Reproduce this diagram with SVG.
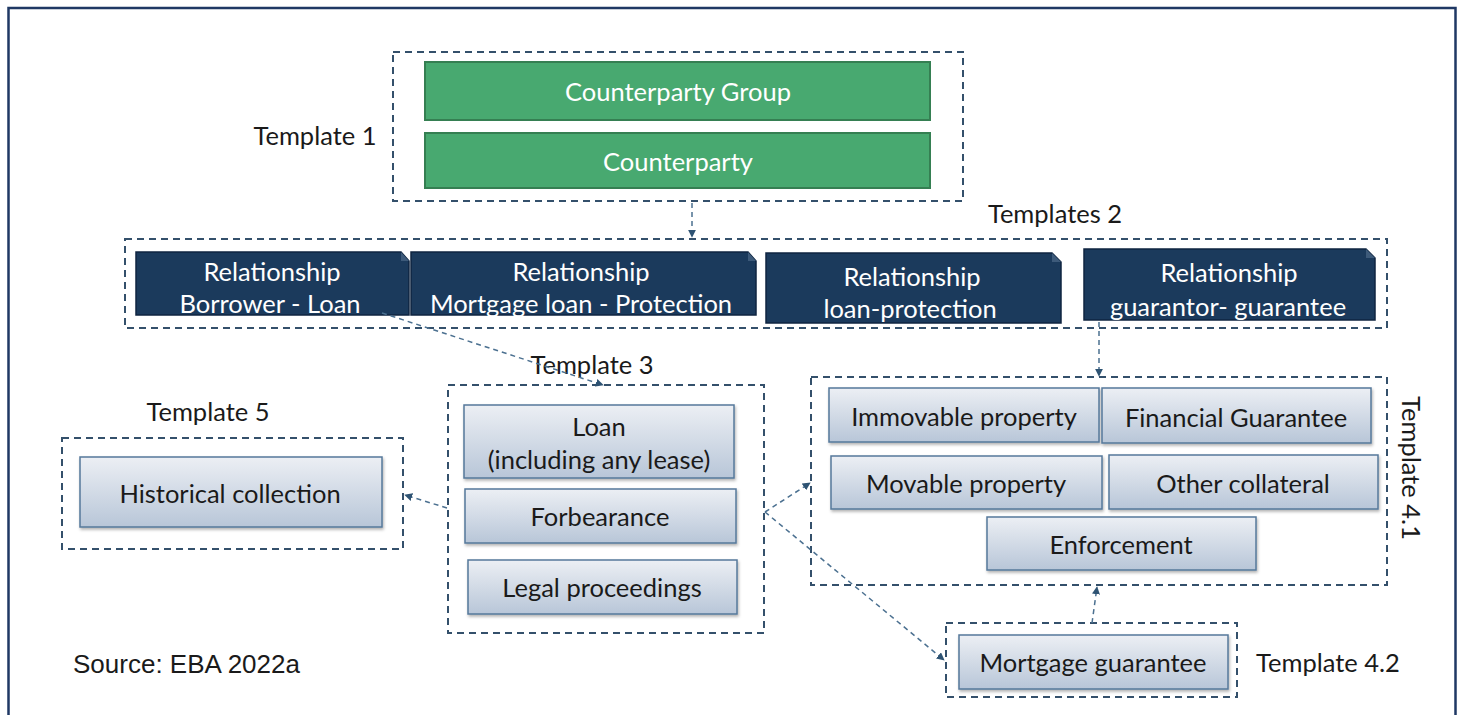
<svg xmlns="http://www.w3.org/2000/svg" width="1460" height="715" viewBox="0 0 1460 715">
<defs>
<linearGradient id="lg" x1="0" y1="0" x2="0" y2="1">
<stop offset="0" stop-color="#eceff4"/>
<stop offset="1" stop-color="#b8c6d8"/>
</linearGradient>
<filter id="sh" x="-10%" y="-20%" width="120%" height="150%">
<feDropShadow dx="1" dy="2" stdDeviation="1.5" flood-color="#000" flood-opacity="0.3"/>
</filter>
<marker id="ah" viewBox="0 0 10 10" refX="9" refY="5" markerWidth="8" markerHeight="8" orient="auto" markerUnits="userSpaceOnUse">
<path d="M0,0 L10,5 L0,10 z" fill="#2e5373"/>
</marker>
<style>
.frame{fill:none;stroke:#1f3864;stroke-width:2.5}
.dash{fill:none;stroke:#34506b;stroke-width:2;stroke-dasharray:7,5}
.green{fill:#48a970;stroke:#357f52;stroke-width:2}
.dark{fill:#1b3a5c;stroke:#0f2540;stroke-width:1.5}
.fold{fill:#3d5a7a}
.light{fill:url(#lg);stroke:#56789a;stroke-width:1.5;filter:url(#sh)}
.conn{fill:none;stroke:#4b7090;stroke-width:1.5;stroke-dasharray:5,4}
text{font-family:Lato,"Liberation Sans",sans-serif;font-size:25.5px;text-anchor:middle;dominant-baseline:central}
.w{fill:#ffffff}
.k{fill:#1a1a1a}
.src{font-family:"Liberation Sans",Arial,sans-serif;font-size:26px;text-anchor:start}
</style>
</defs>
<rect x="0" y="0" width="1460" height="715" fill="#ffffff"/>
<path class="frame" d="M8.5,730 V8 H1455.5 V730"/>

<g id="template1">
<rect class="dash" x="393" y="52" width="570" height="149"/>
<text class="k" x="315" y="135">Template 1</text>
</g>
<g id="counterparty-group">
<rect class="green" x="425" y="62" width="505" height="58"/>
<text class="w" x="678" y="91">Counterparty Group</text>
</g>
<g id="counterparty">
<rect class="green" x="425" y="133" width="505" height="55"/>
<text class="w" x="678" y="161">Counterparty</text>
</g>

<g id="templates2">
<rect class="dash" x="125" y="239" width="1262" height="89"/>
<text class="k" x="1055" y="213">Templates 2</text>
</g>
<g id="rel-borrower-loan">
<path class="dark" d="M136,252 H401 L409,261 V315 H136 Z"/>
<path class="fold" d="M401,252 L409,261 H401 Z"/>
<text class="w" x="272" y="271">Relationship</text>
<text class="w" x="270" y="303">Borrower - Loan</text>
</g>
<g id="rel-mortgage-protection">
<path class="dark" d="M411,252 H748 L756,261 V315 H411 Z"/>
<path class="fold" d="M748,252 L756,261 H748 Z"/>
<text class="w" x="581" y="271">Relationship</text>
<text class="w" x="581" y="303">Mortgage loan - Protection</text>
</g>
<g id="rel-loan-protection">
<path class="dark" d="M766,253 H1052 L1061,262 V323 H766 Z"/>
<path class="fold" d="M1052,253 L1061,262 H1052 Z"/>
<text class="w" x="912" y="276">Relationship</text>
<text class="w" x="910" y="308">loan-protection</text>
</g>
<g id="rel-guarantor-guarantee">
<path class="dark" d="M1084,249 H1366 L1375,258 V320 H1084 Z"/>
<path class="fold" d="M1366,249 L1375,258 H1366 Z"/>
<text class="w" x="1229" y="272">Relationship</text>
<text class="w" x="1228" y="306">guarantor- guarantee</text>
</g>

<g id="template3">
<rect class="dash" x="448" y="385" width="316" height="248"/>
<text class="k" x="592" y="364">Template 3</text>
</g>
<g id="loan">
<rect class="light" x="464" y="405" width="270" height="73"/>
<text class="k" x="599" y="426">Loan</text>
<text class="k" x="599" y="459">(including any lease)</text>
</g>
<g id="forbearance">
<rect class="light" x="465" y="489" width="271" height="54"/>
<text class="k" x="600" y="516">Forbearance</text>
</g>
<g id="legal-proceedings">
<rect class="light" x="468" y="560" width="269" height="54"/>
<text class="k" x="602" y="587">Legal proceedings</text>
</g>

<g id="template5">
<rect class="dash" x="62" y="438" width="341" height="111"/>
<text class="k" x="208" y="411">Template 5</text>
</g>
<g id="historical-collection">
<rect class="light" x="80" y="457" width="302" height="70"/>
<text class="k" x="230" y="493">Historical collection</text>
</g>

<g id="template41">
<rect class="dash" x="811" y="377" width="576" height="208"/>
<text class="k" x="1412" y="468" transform="rotate(90 1412 468)">Template 4.1</text>
</g>
<g id="immovable-property">
<rect class="light" x="829" y="388" width="270" height="54"/>
<text class="k" x="964" y="416">Immovable property</text>
</g>
<g id="financial-guarantee">
<rect class="light" x="1102" y="388" width="269" height="55"/>
<text class="k" x="1236" y="417">Financial Guarantee</text>
</g>
<g id="movable-property">
<rect class="light" x="831" y="456" width="271" height="53"/>
<text class="k" x="966" y="483">Movable property</text>
</g>
<g id="other-collateral">
<rect class="light" x="1109" y="455" width="269" height="54"/>
<text class="k" x="1243" y="483">Other collateral</text>
</g>
<g id="enforcement">
<rect class="light" x="987" y="517" width="269" height="53"/>
<text class="k" x="1121" y="544">Enforcement</text>
</g>

<g id="template42">
<rect class="dash" x="946" y="623" width="291" height="74"/>
<text class="k" x="1256" y="662" style="text-anchor:start">Template 4.2</text>
</g>
<g id="mortgage-guarantee">
<rect class="light" x="959" y="635" width="269" height="54"/>
<text class="k" x="1093" y="662">Mortgage guarantee</text>
</g>

<text class="k src" x="73" y="664">Source: EBA 2022a</text>

<g id="connectors">
<path class="conn" d="M692,203 V237" marker-end="url(#ah)"/>
<path class="conn" d="M382,313 L603,385" marker-end="url(#ah)"/>
<path class="conn" d="M1099,322 V376" marker-end="url(#ah)"/>
<path class="conn" d="M447,508 L405,495" marker-end="url(#ah)"/>
<path class="conn" d="M765,512 L810,483" marker-end="url(#ah)"/>
<path class="conn" d="M765,512 L944,660" marker-end="url(#ah)"/>
<path class="conn" d="M1092,623 L1097,587" marker-end="url(#ah)"/>
</g>
</svg>
